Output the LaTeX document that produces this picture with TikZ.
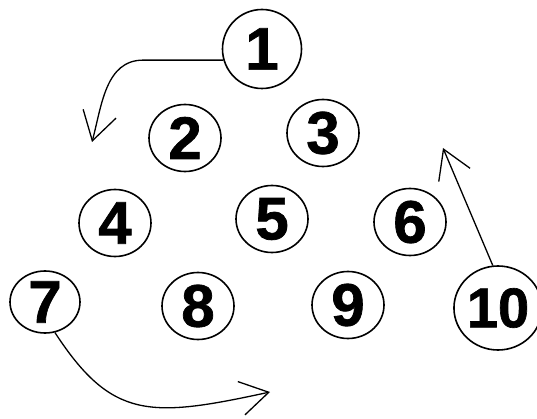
\documentclass[tikz,border=0pt]{standalone}
\usepackage{fontspec}
\setmainfont{Liberation Sans}
\newfontfamily\digitfont[FakeBold=1.2]{Liberation Sans Bold}
\usetikzlibrary{arrows.meta, shapes.geometric}

\begin{document}
\begin{tikzpicture}[
    x=1pt, y=-1pt,
    num/.style={ellipse, draw, line width=1.6pt, inner sep=0pt,
        minimum width=72pt, minimum height=67pt,
        font=\fontsize{60}{60}\digitfont},
    bignum/.style={num, minimum width=79pt, minimum height=79pt},
    curly/.style={-{Straight Barb[length=28pt, width=34pt]}, line width=1.3pt}
]
    \useasboundingbox (0,0) rectangle (537,419);
    \node[bignum] (n1) at (262,49) {1};
    \node[num] (n2) at (185,138) {2};
    \node[num] (n3) at (323,133) {3};
    \node[num] (n4) at (115,223) {4};
    \node[num] (n5) at (272,219) {5};
    \node[num] (n6) at (410,222) {6};
    \node[num, minimum width=70pt, minimum height=62pt] (n7) at (45,302) {7};
    \node[num] (n8) at (198,306) {8};
    \node[num] (n9) at (348,305) {9};
    \node[bignum, minimum height=84pt, font=\fontsize{56}{56}\digitfont] (n10) at (498,308) {10};
    \coordinate (a1) at (92,142);
    \coordinate (a7) at (270,392);
    \coordinate (a10) at (443,148);
    \draw[curly] (n1.196) -- ++(-80,0) to[out=180,in=75] (a1);
    \draw[curly] (n7.288) .. controls (112,420) and (150,418) .. (a7);
    \draw[curly] (n10.97) -- (a10);
\end{tikzpicture}
\end{document}
